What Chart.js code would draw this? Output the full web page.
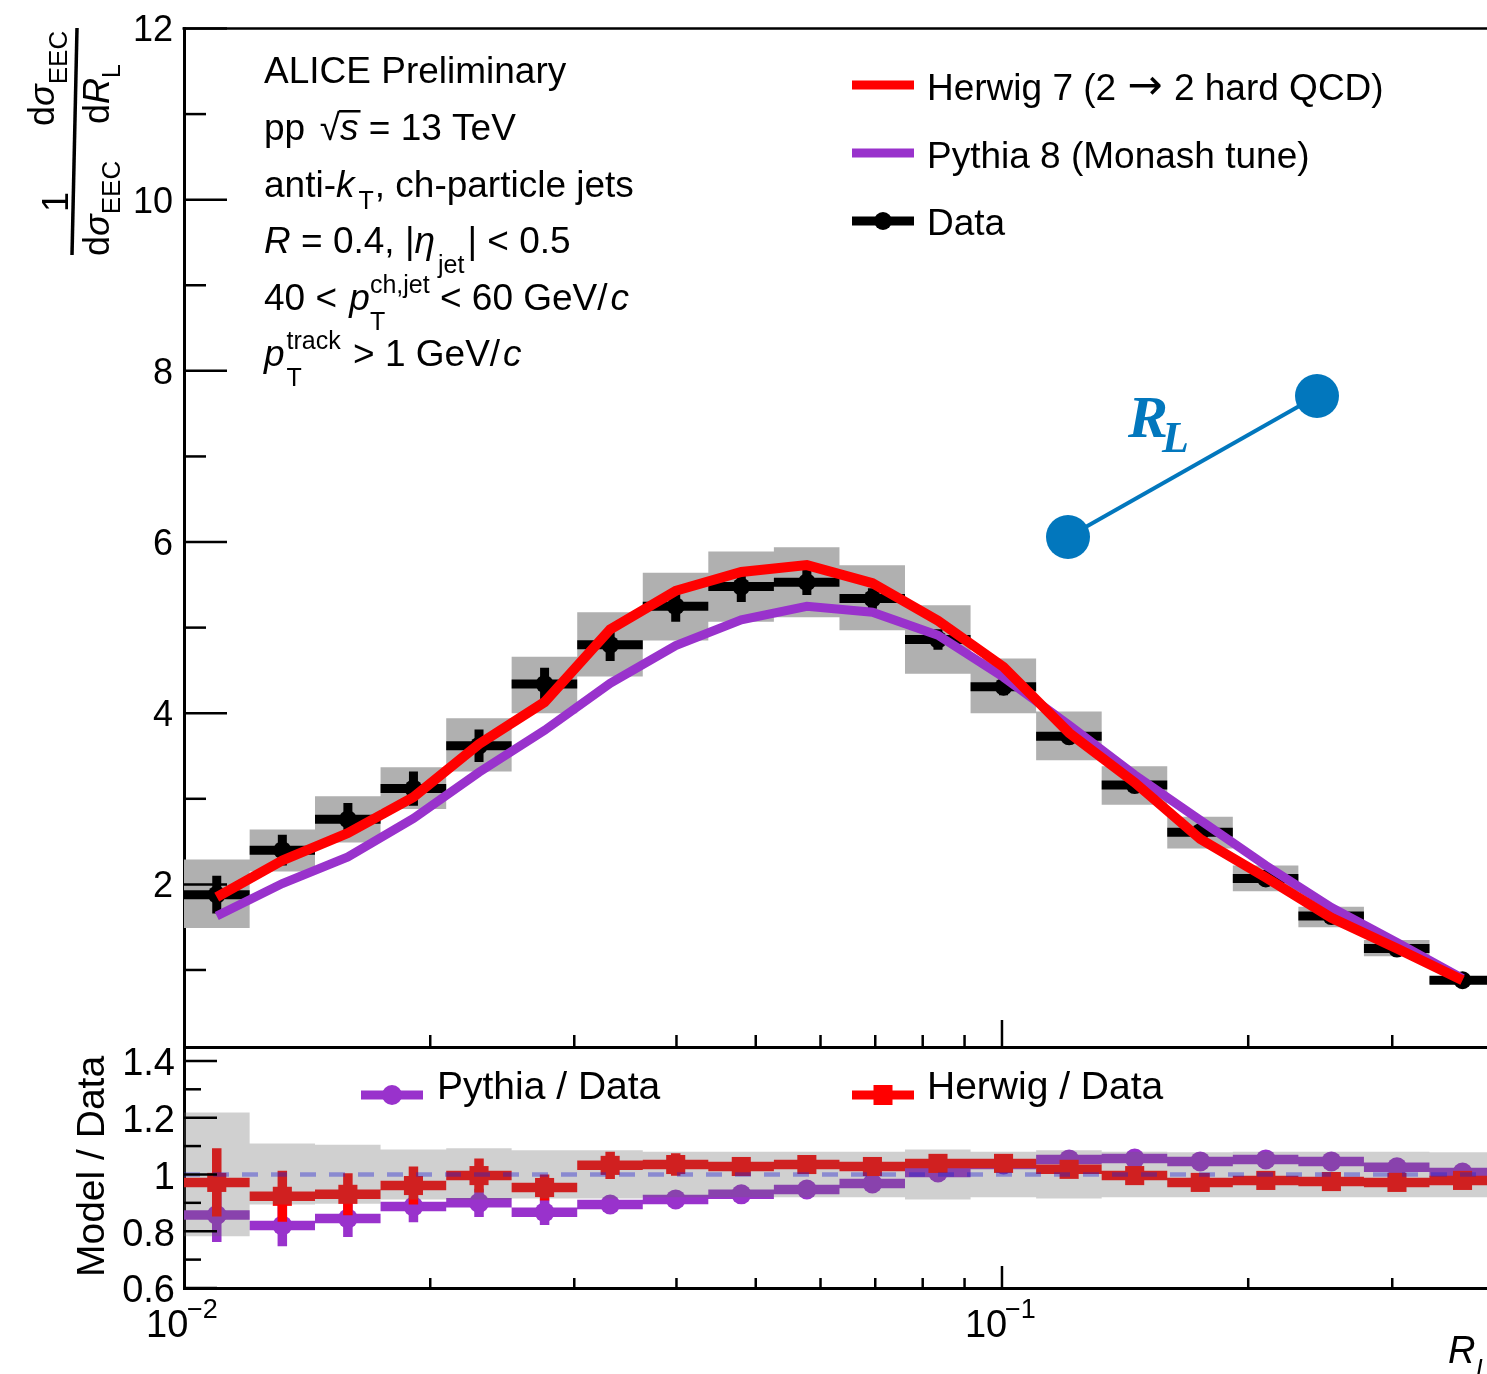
<!DOCTYPE html>
<html>
<head>
<meta charset="utf-8">
<title>ALICE EEC</title>
<script src="https://cdn.jsdelivr.net/npm/chart.js@4/dist/chart.umd.js"></script>
<style>
    html, body { margin: 0; padding: 0; background: #fff; overflow: hidden; }
    #wrap { position: relative; width: 1487px; height: 1374px; }
    canvas { position: absolute; left: 0; }
    #mainChart { top: 0; }
    #ratioChart { top: 1040px; }
</style>
</head>
<body>
<div id="wrap">
    <canvas id="mainChart" width="1487" height="1050"></canvas>
    <canvas id="ratioChart" width="1487" height="334"></canvas>
</div>
<script>
// --- Values ---
const binEdges = [0.01, 0.01203, 0.01446, 0.01739, 0.02092, 0.02515, 0.03025, 0.03638, 0.04375, 0.05262, 0.06329,
    0.07611, 0.09154, 0.11009, 0.1324, 0.15924, 0.19152, 0.23033, 0.27701, 0.33315, 0.4];
const binCenters = [0.010966, 0.013189, 0.015862, 0.019077, 0.022944, 0.027595, 0.033188, 0.039915, 0.048006, 0.057737,
    0.06944, 0.083516, 0.100445, 0.120806, 0.145293, 0.174745, 0.210166, 0.252768, 0.304005, 0.365629];

const dataValues = [1.88, 2.40, 2.76, 3.12, 3.62, 4.34, 4.80, 5.25, 5.48, 5.53,
    5.34, 4.86, 4.31, 3.73, 3.16, 2.61, 2.07, 1.63, 1.25, 0.88];
const dataStat = [0.22, 0.18, 0.19, 0.20, 0.19, 0.19, 0.19, 0.18, 0.18, 0.15,
    0.12, 0.12, 0.10, 0.08, 0.06, 0.05, 0.04, 0.03, 0.03, 0.02];
const dataSysHigh = [2.29, 2.64, 3.03, 3.37, 3.94, 4.66, 5.18, 5.64, 5.89, 5.94,
    5.73, 5.26, 4.64, 4.02, 3.38, 2.79, 2.22, 1.74, 1.35, 0.92];
const dataSysLow = [1.49, 2.15, 2.49, 2.88, 3.32, 4.00, 4.43, 4.85, 5.07, 5.12,
    4.97, 4.46, 4.00, 3.45, 2.93, 2.42, 1.92, 1.50, 1.16, 0.84];
const herwigValues = [1.85, 2.28, 2.60, 3.02, 3.64, 4.13, 4.98, 5.43, 5.65, 5.73,
    5.52, 5.08, 4.54, 3.77, 3.19, 2.53, 2.08, 1.61, 1.25, 0.88];
const pythiaValues = [1.63, 2.01, 2.32, 2.77, 3.31, 3.80, 4.35, 4.79, 5.09, 5.25,
    5.18, 4.91, 4.42, 3.86, 3.28, 2.75, 2.22, 1.73, 1.32, 0.90];

const ratioPythia = [0.857, 0.820, 0.845, 0.887, 0.900, 0.867, 0.894, 0.912, 0.930, 0.947,
    0.968, 1.007, 1.035, 1.053, 1.056, 1.046, 1.053, 1.046, 1.025, 1.007];
const ratioPythiaStat = [0.095, 0.073, 0.065, 0.055, 0.050, 0.045, 0.030, 0.020, 0.020, 0.020,
    0.020, 0.020, 0.020, 0.020, 0.020, 0.020, 0.020, 0.020, 0.020, 0.020];
const ratioHerwig = [0.972, 0.923, 0.930, 0.961, 0.996, 0.954, 1.032, 1.035, 1.028, 1.035,
    1.028, 1.039, 1.039, 1.018, 0.996, 0.972, 0.979, 0.975, 0.972, 0.979];
const ratioHerwigStat = [0.120, 0.090, 0.074, 0.067, 0.060, 0.046, 0.048, 0.040, 0.030, 0.030,
    0.030, 0.030, 0.030, 0.030, 0.030, 0.030, 0.030, 0.030, 0.030, 0.030];
const ratioSysHigh = [1.218, 1.109, 1.105, 1.088, 1.092, 1.085, 1.085, 1.080, 1.080, 1.080,
    1.080, 1.088, 1.080, 1.085, 1.080, 1.078, 1.080, 1.080, 1.080, 1.078];
const ratioSysLow = [0.782, 0.894, 0.897, 0.912, 0.912, 0.915, 0.915, 0.920, 0.920, 0.920,
    0.920, 0.912, 0.920, 0.915, 0.920, 0.920, 0.920, 0.920, 0.920, 0.920];

const mainTicks = [2, 4, 6, 8, 10, 12];
const mainMinorTicks = [1, 3, 5, 7, 9, 11];
const ratioTicks = [0.6, 0.8, 1, 1.2, 1.4];
const ratioMinorTicks = [0.7, 0.9, 1.1, 1.3];
const xMinorTicks = [0.02, 0.03, 0.04, 0.05, 0.06, 0.07, 0.08, 0.09, 0.2, 0.3];
const xMajorTicks = [0.1];

const infoLines = [
    [{ t: 'ALICE Preliminary' }],
    [{ t: 'pp  ' }, { t: '\u221A', i: 1, dx: -6 }, { t: 's', i: 1, bar: 1 }, { t: ' = 13 TeV' }],
    [{ t: 'anti-' }, { t: 'k', i: 1 }, { t: 'T', pos: 'sub1', dx: 4 }, { t: ', ch-particle jets', dx: 1 }],
    [{ t: 'R', i: 1 }, { t: ' = 0.4, |' }, { t: '\u03B7', i: 1 }, { t: 'jet', pos: 'sub', dx: 3 }, { t: '| < 0.5', dx: 3 }],
    [{ t: '40 < ' }, { t: 'p', i: 1, dx: 2 }, { t: 'T', pos: 'sub', hold: 1 }, { t: 'ch,jet', pos: 'sup' }, { t: ' < 60 GeV/' }, { t: 'c', i: 1, dx: 3 }],
    [{ t: 'p', i: 1 }, { t: 'T', pos: 'sub', hold: 1, dx: 2 }, { t: 'track', pos: 'sup' }, { t: ' > 1 GeV/', dx: 2 }, { t: 'c', i: 1, dx: 3 }]
];
const infoBaselines = [83, 140, 197, 253, 310, 366];

const RED = '#ff0000';
const PURPLE = '#9932cc';
const FONT = '"Liberation Sans"';

// --- Small helpers to build the datasets ---
function xy(xs, ys) {
    return xs.map((x, i) => ({ x: x, y: ys[i] }));
}
function binBars(values) {
    const pts = [];
    values.forEach((v, i) => {
        pts.push({ x: binEdges[i], y: v }, { x: binEdges[i + 1], y: v }, { x: binEdges[i + 1], y: null });
    });
    return pts;
}
function statBars(values, errs) {
    const pts = [];
    values.forEach((v, i) => {
        pts.push({ x: binCenters[i], y: v - errs[i] }, { x: binCenters[i], y: v + errs[i] }, { x: binCenters[i], y: null });
    });
    return pts;
}
function stepBand(values) {
    const pts = [];
    values.forEach((v, i) => {
        pts.push({ x: binEdges[i], y: v }, { x: binEdges[i + 1], y: v });
    });
    return pts;
}
function segLine(data, color, width, order) {
    return {
        data: data, borderColor: color, borderWidth: width, pointRadius: 0, spanGaps: false,
        borderCapStyle: 'butt', borderJoinStyle: 'miter', tension: 0, order: order
    };
}
function markers(data, color, style, radius, order) {
    return {
        data: data, showLine: false, pointStyle: style, pointRadius: radius, pointBorderWidth: 0,
        pointBackgroundColor: color, order: order
    };
}
function band(high, low, color, order) {
    return [
        { data: stepBand(high), fill: '+1', backgroundColor: color, borderWidth: 0, pointRadius: 0, tension: 0, order: order },
        { data: stepBand(low), fill: false, borderWidth: 0, pointRadius: 0, tension: 0, order: order }
    ];
}

// --- Text and tick drawing ---
function rich(ctx, x, y, runs, size, subSize) {
    let cx = x;
    let held = 0;
    ctx.textAlign = 'left';
    ctx.textBaseline = 'alphabetic';
    runs.forEach(r => {
        const small = r.pos ? (subSize || size * 0.68) : (r.size || size);
        let dy = r.dy || 0;
        if (r.pos === 'sub') dy = 20;
        if (r.pos === 'sub1') dy = 12;
        if (r.pos === 'sup') dy = -17;
        cx += r.dx || 0;
        ctx.font = (r.i ? 'italic ' : '') + small + 'px ' + (r.f || FONT);
        ctx.fillText(r.t, cx, y + dy);
        const w = ctx.measureText(r.t).width;
        if (r.bar) {
            ctx.fillRect(cx - 1, y - 30, w + 3, 2.5);
        }
        if (r.hold) {
            held = w;
        } else {
            cx += Math.max(w, held);
            held = 0;
        }
    });
}
function rotatedRich(ctx, x, y, runs, size, subSize, subDrop) {
    ctx.save();
    ctx.translate(x, y);
    ctx.rotate(-Math.PI / 2);
    let cx = 0;
    ctx.textAlign = 'left';
    ctx.textBaseline = 'alphabetic';
    runs.forEach(r => {
        ctx.font = (r.i ? 'italic ' : '') + (r.pos ? subSize : size) + 'px ' + FONT;
        ctx.fillText(r.t, cx, r.pos ? subDrop : 0);
        cx += ctx.measureText(r.t).width;
    });
    ctx.restore();
}
function line(ctx, x1, y1, x2, y2, width, color) {
    ctx.beginPath();
    ctx.moveTo(x1, y1);
    ctx.lineTo(x2, y2);
    ctx.lineWidth = width;
    ctx.strokeStyle = color;
    ctx.stroke();
}
function drawTicks(chart, yMajor, yMinor, lenMajor, lenMinor, xLenMajor, xLenMinor) {
    const { ctx, chartArea, scales } = chart;
    yMajor.forEach(v => {
        const p = scales.y.getPixelForValue(v);
        line(ctx, chartArea.left, p, chartArea.left + lenMajor, p, 2.5, '#000');
    });
    yMinor.forEach(v => {
        const p = scales.y.getPixelForValue(v);
        line(ctx, chartArea.left, p, chartArea.left + lenMinor, p, 2.5, '#000');
    });
    xMajorTicks.forEach(v => {
        const p = scales.x.getPixelForValue(v);
        line(ctx, p, chartArea.bottom, p, chartArea.bottom - xLenMajor, 2.5, '#000');
    });
    xMinorTicks.forEach(v => {
        const p = scales.x.getPixelForValue(v);
        line(ctx, p, chartArea.bottom, p, chartArea.bottom - xLenMinor, 2.5, '#000');
    });
}

const mainDecor = {
    id: 'mainDecor',
    afterDraw(chart) {
        const { ctx, chartArea } = chart;
        ctx.save();
        line(ctx, chartArea.left - 1.5, chartArea.top, chartArea.right, chartArea.top, 2.5, '#000');
        drawTicks(chart, mainTicks, mainMinorTicks, 43, 22, 27, 12);
        ctx.fillStyle = '#000';

        // Text block upper left
        infoLines.forEach((runs, i) => rich(ctx, 264, infoBaselines[i], runs, 37, 25));

        // Y title, a rotated fraction
        line(ctx, 77, 28, 72, 255, 3.5, '#000');
        rotatedRich(ctx, 54, 126, [{ t: 'd' }, { t: '\u03C3', i: 1 }, { t: 'EEC', pos: 'sub' }], 36, 26, 13);
        rotatedRich(ctx, 68, 212, [{ t: '1' }], 36);
        rotatedRich(ctx, 109, 256, [{ t: 'd' }, { t: '\u03C3', i: 1 }, { t: 'EEC', pos: 'sub' }], 36, 26, 11);
        rotatedRich(ctx, 109, 124, [{ t: 'd' }, { t: 'R', i: 1 }, { t: 'L', pos: 'sub' }], 36, 25, 11);

        // Legend
        line(ctx, 852, 85, 914, 85, 9, RED);
        line(ctx, 852, 153, 914, 153, 9, PURPLE);
        line(ctx, 852, 221, 914, 221, 9, '#000');
        ctx.beginPath();
        ctx.arc(883, 221, 9, 0, Math.PI * 2);
        ctx.fill();
        rich(ctx, 927, 100, [
            { t: 'Herwig 7 (2 ' },
            { t: '\u2192', f: '"DejaVu Sans"', size: 42, dx: 1, dy: -1 },
            { t: ' 2 hard QCD)', dx: 1 }
        ], 37);
        rich(ctx, 927, 168, [{ t: 'Pythia 8 (Monash tune)' }], 37);
        rich(ctx, 927, 235, [{ t: 'Data' }], 37);

        // Sketch of the two particles separated by R_L
        const blue = '#0277bd';
        line(ctx, 1068, 537, 1317, 396, 4, blue);
        ctx.fillStyle = blue;
        ctx.beginPath();
        ctx.arc(1068, 537, 22, 0, Math.PI * 2);
        ctx.fill();
        ctx.beginPath();
        ctx.arc(1317, 396, 22, 0, Math.PI * 2);
        ctx.fill();
        ctx.textAlign = 'left';
        ctx.font = 'italic bold 60px "Liberation Serif"';
        ctx.fillText('R', 1128, 437);
        ctx.font = 'italic bold 44px "Liberation Serif"';
        ctx.fillText('L', 1162, 452);
        ctx.restore();
    }
};

const ratioDecor = {
    id: 'ratioDecor',
    afterDraw(chart) {
        const { ctx } = chart;
        ctx.save();
        drawTicks(chart, ratioTicks, ratioMinorTicks, 33, 17, 22, 10);
        // page coordinates from here on
        ctx.translate(0, -1040);
        ctx.fillStyle = '#000';

        rotatedRich(ctx, 104, 1277, [{ t: 'Model / Data' }], 39);

        // Legend
        line(ctx, 361, 1095, 423, 1095, 9, PURPLE);
        ctx.fillStyle = PURPLE;
        ctx.beginPath();
        ctx.arc(392, 1095, 10, 0, Math.PI * 2);
        ctx.fill();
        line(ctx, 852, 1095, 914, 1095, 9, RED);
        ctx.fillStyle = RED;
        ctx.fillRect(873.5, 1085, 19, 20);
        ctx.fillStyle = '#000';
        rich(ctx, 437, 1099, [{ t: 'Pythia / Data' }], 39);
        rich(ctx, 927, 1099, [{ t: 'Herwig / Data' }], 39);

        // Decade labels with the exponent raised
        const xp1 = chart.scales.x.getPixelForValue(0.01);
        const xp2 = chart.scales.x.getPixelForValue(0.1);
        rich(ctx, xp1 - 38, 1337, [{ t: '10' }], 38);
        rich(ctx, xp1 + 3, 1318, [{ t: '\u22122' }], 27);
        rich(ctx, xp2 - 37, 1337, [{ t: '10' }], 38);
        rich(ctx, xp2 + 3, 1318, [{ t: '\u22121' }], 27);

        // X title, the subscript runs off the bottom of the page
        rich(ctx, 1448, 1363, [{ t: 'R', i: 1 }], 38);
        rich(ctx, 1476, 1377, [{ t: 'L', i: 1 }], 25);
        ctx.restore();
    }
};

// tick labels must not push the plot area in, the frame has to sit on exact pixels
function noPadding(scale) {
    scale.paddingTop = 0;
    scale.paddingBottom = 0;
    scale.paddingLeft = 0;
    scale.paddingRight = 0;
}
function xScale(height) {
    return {
        type: 'logarithmic',
        min: 0.01,
        max: 0.3917,
        border: { color: '#000', width: 3 },
        grid: { display: false },
        ticks: { display: false },
        afterFit(scale) { scale.height = height; noPadding(scale); }
    };
}
function yScale(min, max, tickValues, label, fontSize, pad, offset) {
    return {
        type: 'linear',
        min: min,
        max: max,
        border: { color: '#000', width: 3 },
        grid: { display: false, drawTicks: false },
        afterBuildTicks(scale) { scale.ticks = tickValues.map(v => ({ value: v })); },
        afterFit(scale) { scale.width = 184; noPadding(scale); },
        ticks: {
            autoSkip: false,
            maxRotation: 0,
            padding: pad,
            labelOffset: offset,
            color: '#000',
            font: { family: FONT, size: fontSize },
            callback: label
        }
    };
}

// --- Main panel ---
new Chart(document.getElementById('mainChart').getContext('2d'), {
    type: 'line',
    data: {
        datasets: [
            segLine(xy(binCenters, herwigValues), RED, 10, 1),
            segLine(xy(binCenters, pythiaValues), PURPLE, 9, 2),
            markers(xy(binCenters, dataValues), '#000', 'circle', 9, 3),
            segLine(statBars(dataValues, dataStat), '#000', 9, 4),
            segLine(binBars(dataValues), '#000', 9, 4),
            ...band(dataSysHigh, dataSysLow, '#b0b0b0', 5)
        ]
    },
    options: {
        responsive: false,
        animation: false,
        parsing: { xAxisKey: 'x', yAxisKey: 'y' },
        layout: { autoPadding: false, padding: { left: 0, right: 0, top: 28.5, bottom: 3 } },
        plugins: { legend: { display: false }, tooltip: { enabled: false } },
        scales: {
            x: xScale(0),
            y: yScale(0.1, 12, mainTicks, v => String(v), 36, 11, 3)
        }
    },
    plugins: [mainDecor]
});

// --- Ratio panel ---
new Chart(document.getElementById('ratioChart').getContext('2d'), {
    type: 'line',
    data: {
        datasets: [
            ...band(ratioSysHigh, ratioSysLow, 'rgba(103,103,103,0.31)', 1),
            Object.assign(segLine([{ x: 0.01, y: 1 }, { x: 0.3917, y: 1 }], 'rgba(0,0,255,0.4)', 4.5, 2), { borderDash: [16, 13] }),
            markers(xy(binCenters, ratioHerwig), RED, 'rect', 13.5, 3),
            segLine(statBars(ratioHerwig, ratioHerwigStat), RED, 9.5, 3),
            segLine(binBars(ratioHerwig), RED, 9.5, 3),
            markers(xy(binCenters, ratioPythia), PURPLE, 'circle', 10, 4),
            segLine(statBars(ratioPythia, ratioPythiaStat), PURPLE, 9.5, 4),
            segLine(binBars(ratioPythia), PURPLE, 9.5, 4)
        ]
    },
    options: {
        responsive: false,
        animation: false,
        parsing: { xAxisKey: 'x', yAxisKey: 'y' },
        layout: { autoPadding: false, padding: { left: 0, right: 0, top: 7, bottom: 0 } },
        plugins: { legend: { display: false }, tooltip: { enabled: false } },
        scales: {
            x: xScale(86),
            y: yScale(0.6, 1.449, ratioTicks, v => (v === 1 ? '1' : v.toFixed(1)), 38, 9, 4)
        }
    },
    plugins: [ratioDecor]
});
</script>
</body>
</html>
